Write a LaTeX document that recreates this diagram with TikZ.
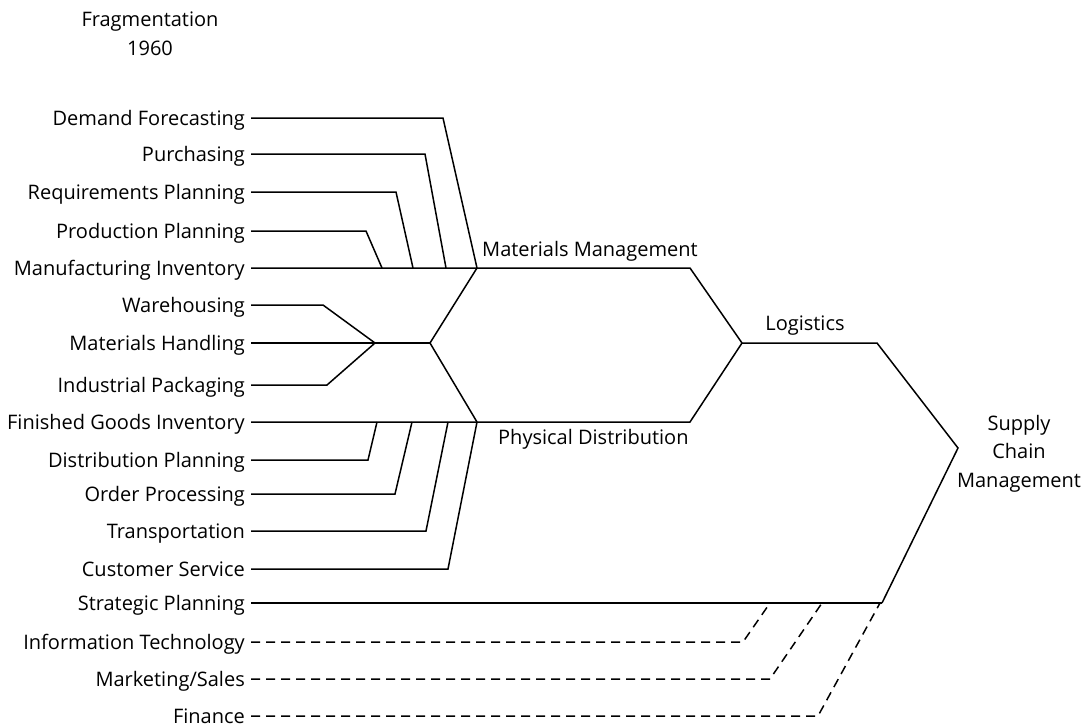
\documentclass[tikz,border=0pt]{standalone}
\usepackage{fontspec}
\setmainfont{Open Sans}
\newcommand{\lblfont}{\fontsize{20}{24}\selectfont}
\begin{document}
\begin{tikzpicture}[x=1pt,y=-1pt,
  lbl/.style={anchor=base east, font=\lblfont, inner sep=0pt},
  ttl/.style={anchor=base, font=\lblfont, inner sep=0pt},
  ln/.style={line width=1.5pt, line join=miter, line cap=butt},
  dsh/.style={ln, dash pattern=on 9pt off 6pt}]
\useasboundingbox (0,0) rectangle (1088,728);

% titles
\node[ttl] (frag) at (150,27) {Fragmentation};
\node[ttl] (year) at (150,55) {1960};
\node[ttl, anchor=base west] (mmt) at (482,256) {Materials Management};
\node[ttl, anchor=base west] (pdt) at (498,444) {Physical Distribution};
\node[ttl] (lgt) at (805,330) {Logistics};
\node[ttl] (scm1) at (1019,430) {Supply};
\node[ttl] (scm2) at (1019,458) {Chain};
\node[ttl] (scm3) at (1019,487) {Management};

% activity labels
\node[lbl] (df) at (245,125.5) {Demand Forecasting};
\node[lbl] (pu) at (245,161.5) {Purchasing};
\node[lbl] (rp) at (245,199.5) {Requirements Planning};
\node[lbl] (pp) at (245,238.5) {Production Planning};
\node[lbl] (mi) at (245,275.5) {Manufacturing Inventory};
\node[lbl] (wh) at (245,312.5) {Warehousing};
\node[lbl] (mh) at (245,350.5) {Materials Handling};
\node[lbl] (ip) at (245,392.5) {Industrial Packaging};
\node[lbl] (fg) at (245,429.5) {Finished Goods Inventory};
\node[lbl] (dp) at (245,467.5) {Distribution Planning};
\node[lbl] (op) at (245,501.5) {Order Processing};
\node[lbl] (tr) at (245,538.5) {Transportation};
\node[lbl] (cs) at (245,576.5) {Customer Service};
\node[lbl] (sp) at (245,610.5) {Strategic Planning};
\node[lbl] (it) at (245,649.5) {Information Technology};
\node[lbl] (ms) at (245,686.5) {Marketing/Sales};
\node[lbl] (fi) at (245,723.5) {Finance};

% line starts beside each label
\foreach \n/\y in {df/118,pu/154,rp/192,pp/231,mi/268,wh/305,mh/343,ip/385,
                   fg/422,dp/460,op/494,tr/531,cs/569,sp/603,it/642,ms/679,fi/716}
  \coordinate (\n-s) at (251,\y);

% junctions
\coordinate (mm-w) at (477,268);
\coordinate (mm-e) at (690,268);
\coordinate (pd-w) at (477,422);
\coordinate (pd-e) at (690,422);
\coordinate (j1) at (375,343);
\coordinate (j2) at (430,343);
\coordinate (lg-w) at (742,343);
\coordinate (lg-e) at (877,343);
\coordinate (sc) at (958,448);
\coordinate (sp-e) at (882,603);

% materials management branch
\draw[ln] (df-s) -- (443,118) -- (mm-w);
\draw[ln] (pu-s) -- (425,154) -- (446,268);
\draw[ln] (rp-s) -- (396,192) -- (413,268);
\draw[ln] (pp-s) -- (366,231) -- (382,268);
\draw[ln] (mi-s) -- (mm-w) -- (mm-e) -- (lg-w);

% shared middle functions
\draw[ln] (wh-s) -- (323,305) -- (j1);
\draw[ln] (ip-s) -- (327,385) -- (j1);
\draw[ln] (mh-s) -- (j1) -- (j2);
\draw[ln] (mm-w) -- (j2) -- (pd-w);

% physical distribution branch
\draw[ln] (fg-s) -- (pd-w) -- (pd-e) -- (lg-w);
\draw[ln] (dp-s) -- (368,460) -- (377,422);
\draw[ln] (op-s) -- (395,494) -- (412,422);
\draw[ln] (tr-s) -- (426,531) -- (448,422);
\draw[ln] (cs-s) -- (448,569) -- (pd-w);

% logistics to supply chain management
\draw[ln] (lg-w) -- (lg-e) -- (sc) -- (sp-e);
\draw[ln] (sp-s) -- (sp-e);

% later additions
\draw[dsh] (it-s) -- (743,642) -- (770,603);
\draw[dsh] (ms-s) -- (770,679) -- (822,603);
\draw[dsh] (fi-s) -- (818,716) -- (880,603);
\end{tikzpicture}
\end{document}
